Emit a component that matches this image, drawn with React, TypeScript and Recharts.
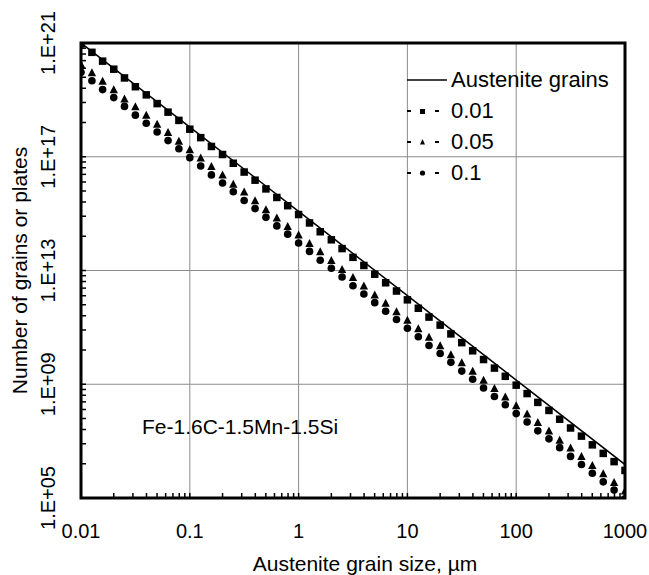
import {
  ScatterChart,
  Scatter,
  XAxis,
  YAxis,
  CartesianGrid,
  ReferenceArea,
  Legend,
} from 'recharts';

// grain size (um), 10 points per decade
const grainSize = [
  0.01, 0.0126, 0.0158, 0.02, 0.0251, 0.0316, 0.0398, 0.0501, 0.0631, 0.0794,
  0.1, 0.126, 0.158, 0.2, 0.251, 0.316, 0.398, 0.501, 0.631, 0.794,
  1, 1.26, 1.58, 2, 2.51, 3.16, 3.98, 5.01, 6.31, 7.94,
  10, 12.6, 15.8, 20, 25.1, 31.6, 39.8, 50.1, 63.1, 79.4,
  100, 126, 158, 200, 251, 316, 398, 501, 631, 794,
  1000,
];

const plates001 = [
  9.3e20, 4.7e20, 2.3e20, 1.2e20, 5.9e19, 2.9e19, 1.5e19, 7.4e18, 3.7e18, 1.9e18,
  9.3e17, 4.7e17, 2.3e17, 1.2e17, 5.9e16, 2.9e16, 1.5e16, 7.4e15, 3.7e15, 1.9e15,
  9.3e14, 4.7e14, 2.3e14, 1.2e14, 5.9e13, 2.9e13, 1.5e13, 7.4e12, 3.7e12, 1.9e12,
  9.3e11, 4.7e11, 2.3e11, 1.2e11, 5.9e10, 2.9e10, 1.5e10, 7.4e9, 3.7e9, 1.9e9,
  9.3e8, 4.7e8, 2.3e8, 1.2e8, 5.9e7, 2.9e7, 1.5e7, 7.4e6, 3.7e6, 1.9e6,
  9.3e5,
];

const plates005 = [
  1.8e20, 9.1e19, 4.6e19, 2.3e19, 1.1e19, 5.8e18, 2.9e18, 1.4e18, 7.2e17, 3.6e17,
  1.8e17, 9.1e16, 4.6e16, 2.3e16, 1.1e16, 5.8e15, 2.9e15, 1.4e15, 7.2e14, 3.6e14,
  1.8e14, 9.1e13, 4.6e13, 2.3e13, 1.1e13, 5.8e12, 2.9e12, 1.4e12, 7.2e11, 3.6e11,
  1.8e11, 9.1e10, 4.6e10, 2.3e10, 1.1e10, 5.8e9, 2.9e9, 1.4e9, 7.2e8, 3.6e8,
  1.8e8, 9.1e7, 4.6e7, 2.3e7, 1.1e7, 5.8e6, 2.9e6, 1.4e6, 7.2e5, 3.6e5,
  1.8e5,
];

const plates01 = [
  9.3e19, 4.7e19, 2.3e19, 1.2e19, 5.9e18, 2.9e18, 1.5e18, 7.4e17, 3.7e17, 1.9e17,
  9.3e16, 4.7e16, 2.3e16, 1.2e16, 5.9e15, 2.9e15, 1.5e15, 7.4e14, 3.7e14, 1.9e14,
  9.3e13, 4.7e13, 2.3e13, 1.2e13, 5.9e12, 2.9e12, 1.5e12, 7.4e11, 3.7e11, 1.9e11,
  9.3e10, 4.7e10, 2.3e10, 1.2e10, 5.9e9, 2.9e9, 1.5e9, 7.4e8, 3.7e8, 1.9e8,
  9.3e7, 4.7e7, 2.3e7, 1.2e7, 5.9e6, 2.9e6, 1.5e6, 7.4e5, 3.7e5, 1.9e5,
  9.3e4,
];

const austeniteSize = [0.01, 0.1, 1, 10, 100, 1000];
const austeniteGrains = [1.0e21, 1.1e18, 1.2e15, 1.3e12, 1.4e9, 1.5e6];

const xMajor = [0.01, 0.1, 1, 10, 100, 1000];
const xMajorLabels = ['0.01', '0.1', '1', '10', '100', '1000'];
const yMajor = [1e5, 1e9, 1e13, 1e17, 1e21];
const yMajorLabels = ['1.E+05', '1.E+09', '1.E+13', '1.E+17', '1.E+21'];
const minorSteps = [2, 3, 4, 5, 6, 7, 8, 9];

// log minor ticks; y axis runs in steps of 10^4 so its minors sit at m^4
const xMinor = xMajor.slice(0, -1).flatMap((d) => minorSteps.map((m) => d * m));
const yMinor = yMajor.slice(0, -1).flatMap((d) => minorSteps.map((m) => d * m ** 4));

const FONT = 'Arial, "Liberation Sans", sans-serif';

const toPoints = (ys: number[]) => grainSize.map((x, i) => ({ x, y: ys[i] }));
const austenite = austeniteSize.map((x, i) => ({ x, y: austeniteGrains[i] }));

function XTick(props: any) {
  const { x, y, payload } = props;
  const i = xMajor.indexOf(payload.value);
  return (
    <g>
      <line x1={x} y1={y} x2={x} y2={y - 5} stroke="#000" strokeWidth={1.5} />
      {i >= 0 && (
        <text x={x} y={y + 40} textAnchor="middle" fontSize={20} fontFamily={FONT} fill="#000">
          {xMajorLabels[i]}
        </text>
      )}
    </g>
  );
}

function YTick(props: any) {
  const { x, y, payload } = props;
  const i = yMajor.indexOf(payload.value);
  return (
    <g>
      <line x1={x} y1={y} x2={x + 5} y2={y} stroke="#000" strokeWidth={1.5} />
      {i >= 0 && (
        <text
          transform={`translate(${x - 26},${y}) rotate(-90)`}
          textAnchor="middle"
          fontSize={20}
          fontFamily={FONT}
          fill="#000"
        >
          {yMajorLabels[i]}
        </text>
      )}
    </g>
  );
}

const Square = (p: any) => <rect x={p.cx - 3.75} y={p.cy - 3.75} width={7.5} height={7.5} fill="#000" />;
const Triangle = (p: any) => (
  <polygon points={`${p.cx},${p.cy - 4.3} ${p.cx - 4.2},${p.cy + 3.7} ${p.cx + 4.2},${p.cy + 3.7}`} fill="#000" />
);
const Dot = (p: any) => <circle cx={p.cx} cy={p.cy} r={3.8} fill="#000" />;
const NoShape = () => <g />;

const legendRows = [
  { name: 'Austenite grains', marker: null },
  { name: '0.01', marker: 'square' },
  { name: '0.05', marker: 'triangle' },
  { name: '0.1', marker: 'circle' },
];

function LegendBox() {
  return (
    <div style={{ fontFamily: FONT, fontSize: 22, color: '#000' }}>
      {legendRows.map((r) => (
        <div key={r.name} style={{ display: 'flex', alignItems: 'center', height: 31 }}>
          <svg width={45} height={12}>
            {r.marker === null ? (
              <line x1={2} y1={6} x2={42} y2={6} stroke="#000" strokeWidth={1.3} />
            ) : (
              <g stroke="#000" strokeWidth={2}>
                <line x1={2} y1={6} x2={6} y2={6} />
                <line x1={30} y1={6} x2={34} y2={6} />
                {r.marker === 'square' && <rect x={15} y={4} width={5} height={5} fill="#000" stroke="none" />}
                {r.marker === 'triangle' && <polygon points="17.5,3 15,8.5 20,8.5" fill="#000" stroke="none" />}
                {r.marker === 'circle' && <circle cx={17.5} cy={6} r={2.6} fill="#000" stroke="none" />}
              </g>
            )}
          </svg>
          <span style={{ marginLeft: 1 }}>{r.name}</span>
        </div>
      ))}
    </div>
  );
}

export default function App() {
  return (
    <div style={{ position: 'absolute', left: 0, top: 0, background: '#fff' }}>
      <ScatterChart width={649} height={575} margin={{ top: 43, right: 24, bottom: 0, left: 0 }}>
        <CartesianGrid
          stroke="#8c8c8c"
          strokeWidth={1}
          horizontalValues={yMajor}
          verticalValues={xMajor}
        />
        <XAxis
          type="number"
          dataKey="x"
          scale="log"
          domain={[0.01, 1000]}
          allowDataOverflow
          ticks={[...xMajor, ...xMinor]}
          interval={0}
          height={77}
          tickSize={0}
          tickMargin={0}
          tickLine={false}
          axisLine={false}
          tick={<XTick />}
          label={{
            value: 'Austenite grain size, µm',
            position: 'insideBottom',
            offset: 4,
            dx: 12,
            style: { fontSize: 21, fontFamily: FONT, fill: '#000' },
          }}
        />
        <YAxis
          type="number"
          dataKey="y"
          scale="log"
          domain={[1e5, 1e21]}
          allowDataOverflow
          ticks={[...yMajor, ...yMinor]}
          interval={0}
          width={81}
          tickSize={0}
          tickMargin={0}
          tickLine={false}
          axisLine={false}
          tick={<YTick />}
          label={{
            value: 'Number of grains or plates',
            angle: -90,
            position: 'insideLeft',
            offset: 20,
            style: { fontSize: 21, fontFamily: FONT, fill: '#000', textAnchor: 'middle' },
          }}
        />
        <Scatter
          name="Austenite grains"
          data={austenite}
          line={{ stroke: '#000', strokeWidth: 1.5 }}
          shape={<NoShape />}
          isAnimationActive={false}
        />
        <Scatter name="0.01" data={toPoints(plates001)} shape={<Square />} isAnimationActive={false} />
        <Scatter name="0.05" data={toPoints(plates005)} shape={<Triangle />} isAnimationActive={false} />
        <Scatter name="0.1" data={toPoints(plates01)} shape={<Dot />} isAnimationActive={false} />
        <ReferenceArea
          x1={0.01}
          x2={1000}
          y1={1e5}
          y2={1e21}
          fill="none"
          stroke="#000"
          strokeWidth={3}
          ifOverflow="visible"
        />
        <Legend
          layout="vertical"
          align="center"
          verticalAlign="middle"
          wrapperStyle={{ position: 'absolute', left: 405, top: 64, width: 235 }}
          content={() => <LegendBox />}
        />
      </ScatterChart>
      <div
        style={{
          position: 'absolute',
          left: 142,
          top: 415,
          fontFamily: FONT,
          fontSize: 21,
          color: '#000',
          whiteSpace: 'nowrap',
        }}
      >
        Fe-1.6C-1.5Mn-1.5Si
      </div>
    </div>
  );
}
